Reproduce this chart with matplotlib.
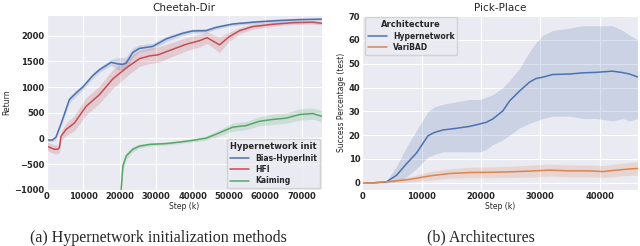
import numpy as np
import matplotlib
matplotlib.use("Agg")
import matplotlib.pyplot as plt
import seaborn as sns

sns.set_style("darkgrid")
plt.rcParams['font.family'] = ['DejaVu Sans']

# ---- Cheetah-Dir (left) ----
bias_x = [0, 1500, 2500, 4000, 6200, 8000, 9900, 12600, 14450, 17660, 19500, 20860,
          21800, 23600, 25400, 29100, 32750, 37300, 40000, 43700, 46500, 51000,
          57500, 63000, 69300, 75500]
bias_y = [-30, -30, 20, 300, 755, 880, 1000, 1220, 1335, 1480, 1450, 1440,
          1465, 1670, 1750, 1790, 1935, 2045, 2090, 2095, 2160, 2225,
          2265, 2290, 2310, 2320]
bias_err = [30, 30, 40, 50, 60, 60, 50, 50, 50, 60, 120, 130,
            120, 90, 70, 60, 50, 40, 40, 40, 35, 30,
            30, 30, 30, 30]

hfi_x = [0, 2100, 3000, 3500, 3900, 5300, 7600, 10800, 14450, 18100, 21800, 25400,
         28200, 30500, 33700, 38200, 41900, 44000, 47400, 50100, 52900, 56500,
         62000, 67500, 73000, 75500]
hfi_y = [-150, -210, -210, -180, 40, 175, 300, 625, 850, 1155, 1370, 1550,
         1605, 1625, 1710, 1830, 1900, 1960, 1820, 1980, 2095, 2175,
         2220, 2250, 2260, 2240]
hfi_err = [80, 90, 90, 90, 90, 120, 150, 170, 170, 180, 170, 150,
           150, 150, 140, 130, 120, 110, 150, 90, 60, 50,
           40, 35, 35, 35]

kai_x = [19900, 20400, 20900, 21800, 23600, 25400, 28200, 32700, 36400, 39200,
         43700, 47400, 51000, 54700, 58400, 62000, 65700, 69300, 73000, 75500]
kai_y = [-1800, -1000, -535, -340, -210, -150, -115, -100, -70, -45,
         5, 110, 220, 250, 335, 370, 395, 465, 485, 430]
kai_err = [150, 120, 90, 70, 50, 40, 30, 30, 30, 30,
           40, 60, 80, 80, 90, 100, 100, 110, 110, 110]

# ---- Pick-Place (right) ----
hyp_x = [0, 2000, 4100, 5800, 7460, 9140, 11100, 12230, 13630, 15900, 18100, 19800,
         20900, 22000, 23700, 24850, 26500, 28200, 29300, 30460, 32100, 34950,
         37200, 39400, 42200, 43900, 45050, 46500]
hyp_y = [0, 0, 0.4, 3.2, 8, 12.5, 19.8, 21.2, 22.2, 22.9, 23.7, 24.7,
         25.4, 26.8, 30.2, 34.4, 38.5, 42.3, 43.8, 44.4, 45.5, 45.7,
         46.2, 46.4, 46.9, 46.3, 45.7, 44.4]
hyp_lo = [0, 0, 0, 0.5, 2.5, 6, 10.8, 12, 13, 13, 13, 13,
          14, 16, 18, 20, 23, 25, 26, 27, 28, 28,
          27, 27, 26, 27, 26, 27]
hyp_hi = [0, 0, 0.8, 7, 15, 22, 30, 32, 33, 34, 35, 35,
          36, 37, 40, 43, 48, 55, 59, 62, 64, 65,
          66, 66, 66, 64, 62, 60]

vari_x = [0, 2000, 4100, 8000, 11400, 14750, 18100, 21500, 24850, 28200, 31600,
          34950, 38300, 40560, 42800, 45050, 46500]
vari_y = [0, 0, 0.4, 1.4, 2.9, 3.9, 4.3, 4.4, 4.6, 4.9, 5.3,
          5.0, 5.0, 4.7, 5.3, 5.8, 6.0]
vari_err = [0.1, 0.2, 0.5, 1.2, 1.8, 2.0, 2.2, 2.3, 2.4, 2.5, 2.5,
            2.5, 2.5, 2.5, 2.6, 2.7, 2.8]

BLUE, RED, GREEN, ORANGE = '#4c72b0', '#c44e52', '#55a868', '#dd8452'

fig = plt.figure(figsize=(6.4, 2.46), dpi=100)
ax1 = fig.add_axes([0.073, 0.228, 0.430, 0.711])
ax2 = fig.add_axes([0.566, 0.228, 0.431, 0.711])


def band(ax, x, y, err, color, label):
    x, y, err = np.array(x), np.array(y), np.array(err)
    ax.fill_between(x, y - err, y + err, color=color, alpha=0.2, lw=0)
    ax.plot(x, y, color=color, lw=1.1, label=label)


band(ax1, bias_x, bias_y, bias_err, BLUE, 'Bias-HyperInit')
band(ax1, hfi_x, hfi_y, hfi_err, RED, 'HFI')
band(ax1, kai_x, kai_y, kai_err, GREEN, 'Kaiming')
ax1.set_xlim(0, 75500)
ax1.set_ylim(-1000, 2400)
ax1.set_yticks(np.arange(-1000, 2001, 500))
ax1.set_xticks(np.arange(0, 70001, 10000))
ax1.set_title('Cheetah-Dir', fontsize=7.5, pad=3)
ax1.set_xlabel('Step (k)', fontsize=5.5, labelpad=1)
ax1.set_ylabel('Return', fontsize=5.5, labelpad=2)
ax1.legend(title='Hypernetwork init', loc='lower right',
           title_fontproperties={'size': 6, 'weight': 'bold'},
           prop={'size': 5.5, 'weight': 'bold'}, handlelength=2.5,
           borderaxespad=0.2, labelspacing=0.3)

ax2.fill_between(hyp_x, hyp_lo, hyp_hi, color=BLUE, alpha=0.2, lw=0)
ax2.plot(hyp_x, hyp_y, color=BLUE, lw=1.1, label='Hypernetwork')
band(ax2, vari_x, vari_y, vari_err, ORANGE, 'VariBAD')
ax2.set_xlim(0, 46500)
ax2.set_ylim(-3, 70.5)
ax2.set_yticks(np.arange(0, 71, 10))
ax2.set_xticks(np.arange(0, 40001, 10000))
ax2.set_title('Pick-Place', fontsize=7.5, pad=3)
ax2.set_xlabel('Step (k)', fontsize=5.5, labelpad=1)
ax2.set_ylabel('Success Percentage (test)', fontsize=5.5, labelpad=2)
ax2.legend(title='Architecture', loc='upper left',
           title_fontproperties={'size': 6, 'weight': 'bold'},
           prop={'size': 5.5, 'weight': 'bold'}, handlelength=2.5,
           borderaxespad=0.3, labelspacing=0.3)

for ax in (ax1, ax2):
    ax.tick_params(axis='both', labelsize=6, pad=1.5, length=0)
    for lab in ax.get_xticklabels() + ax.get_yticklabels():
        lab.set_fontweight('bold')
    ax.grid(True, color='white', lw=0.8)

fig.text(0.247, 0.033, '(a) Hypernetwork initialization methods',
         family='Liberation Serif', fontsize=11.5, ha='center', va='center')
fig.text(0.751, 0.033, '(b) Architectures',
         family='Liberation Serif', fontsize=11.5, ha='center', va='center')

fig.savefig('out.png', dpi=100)
